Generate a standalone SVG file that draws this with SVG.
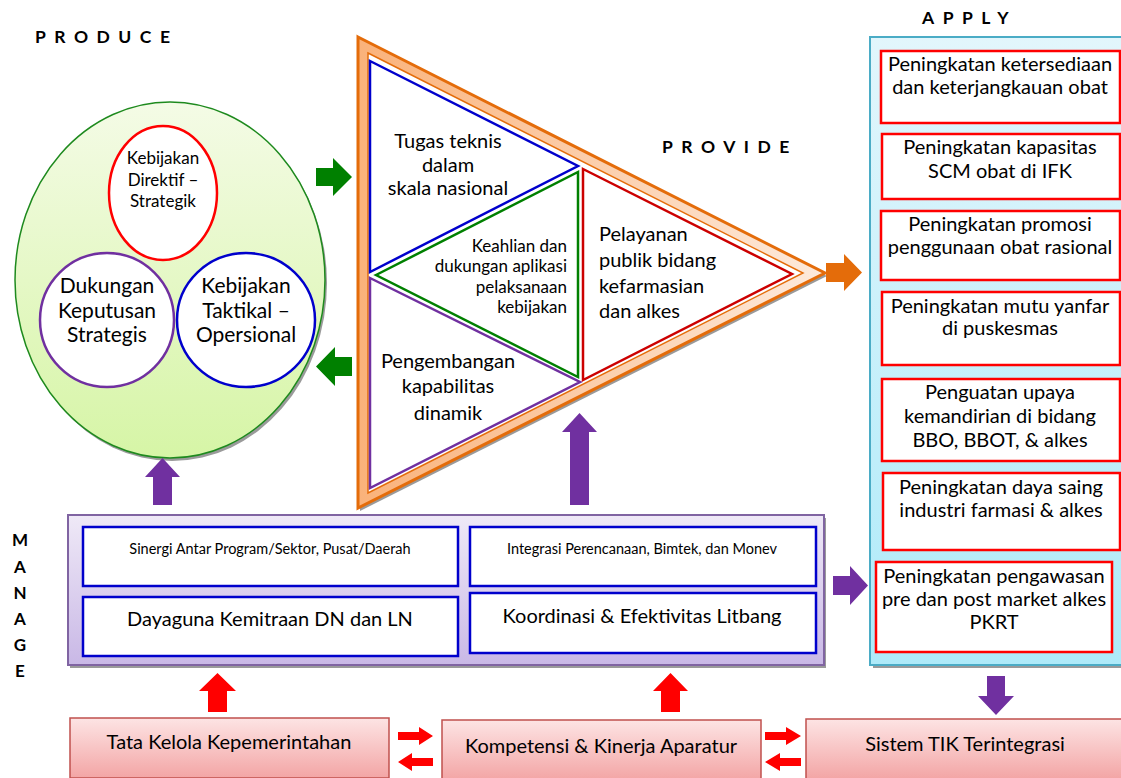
<svg xmlns="http://www.w3.org/2000/svg" width="1121" height="778" viewBox="0 0 1121 778">
<defs>
<linearGradient id="gGreen" x1="0" y1="0" x2="0" y2="1"><stop offset="0" stop-color="#f4fbe6"/><stop offset="1" stop-color="#d6f5a6"/></linearGradient>
<linearGradient id="gOrange" x1="0" y1="0" x2="1" y2="0"><stop offset="0" stop-color="#fab27a"/><stop offset="1" stop-color="#fdeadc"/></linearGradient>
<linearGradient id="gBlue" x1="0" y1="0" x2="0" y2="1"><stop offset="0" stop-color="#e2f6fc"/><stop offset="1" stop-color="#aeeaf9"/></linearGradient>
<linearGradient id="gPurple" x1="0" y1="0" x2="0" y2="1"><stop offset="0" stop-color="#efe9f7"/><stop offset="1" stop-color="#c9b8e6"/></linearGradient>
<linearGradient id="gPink" x1="0" y1="0" x2="0" y2="1"><stop offset="0" stop-color="#fde4e4"/><stop offset="1" stop-color="#f3a5a5"/></linearGradient>
</defs>
<style>
text{font-family:Lato,"Open Sans","Noto Sans",sans-serif;fill:#000}
.t20{font-size:20px;text-anchor:middle}
.t21{font-size:21px;text-anchor:middle}
.t17{font-size:17px;text-anchor:middle}
.k{font-size:17px;text-anchor:end}
.lbl{font-size:17.5px;font-weight:bold;letter-spacing:8.5px}
.mg{font-size:17px;font-weight:bold;text-anchor:middle}
.rb{fill:#fff;stroke:#ff0000;stroke-width:2.5}
.bb{fill:#fff;stroke:#0000cc;stroke-width:2.5}
.pk{fill:url(#gPink);stroke:#c0504d;stroke-width:1.5}
.sh{fill:#9a9a9a}
</style>
<!-- labels -->
<text class="lbl" x="35" y="43">PRODUCE</text>
<text class="lbl" x="662" y="153">PROVIDE</text>
<text class="lbl" x="922" y="24">APPLY</text>
<g id="manage-label">
<text class="mg" x="20" y="546">M</text>
<text class="mg" x="20" y="573">A</text>
<text class="mg" x="20" y="599">N</text>
<text class="mg" x="20" y="625">A</text>
<text class="mg" x="20" y="651">G</text>
<text class="mg" x="20" y="677">E</text>
</g>
<!-- PRODUCE -->
<g id="produce">
<ellipse cx="172" cy="283" rx="155" ry="178" class="sh"/>
<ellipse cx="170" cy="280" rx="155" ry="178" fill="url(#gGreen)" stroke="#1e8a1e" stroke-width="1.5"/>
</g>
<g id="node-direktif">
<ellipse cx="163" cy="193" rx="54" ry="67" fill="#fff" stroke="#ff0000" stroke-width="2.5"/>
<text class="t17" x="163" y="164">Kebijakan</text>
<text class="t17" x="163" y="186">Direktif –</text>
<text class="t17" x="163" y="207">Strategik</text>
</g>
<g id="node-dukungan">
<circle cx="107" cy="320" r="67" fill="#fff" stroke="#7030a0" stroke-width="2.5"/>
<text class="t21" x="107" y="293">Dukungan</text>
<text class="t21" x="107" y="318">Keputusan</text>
<text class="t21" x="107" y="342">Strategis</text>
</g>
<g id="node-taktikal">
<ellipse cx="246" cy="320" rx="69" ry="67" fill="#fff" stroke="#0000cc" stroke-width="2.5"/>
<text class="t21" x="246" y="293">Kebijakan</text>
<text class="t21" x="246" y="318">Taktikal –</text>
<text class="t21" x="246" y="342">Opersional</text>
</g>
<!-- PROVIDE triangle -->
<g id="provide">
<polygon points="360,40 827,276 360,511" class="sh"/>
<polygon points="358,37 825,273 358,508" fill="url(#gOrange)" stroke="#e46c0a" stroke-width="3"/>
<polygon points="368,53 803,273 368,493" fill="#fff" stroke="#e46c0a" stroke-width="1.5"/>
</g>
<g id="node-tugas">
<polygon points="370,61 578,166 370,272" fill="none" stroke="#0000cc" stroke-width="2.5"/>
<text class="t20" x="448" y="148">Tugas teknis</text>
<text class="t20" x="448" y="172">dalam</text>
<text class="t20" x="448" y="195">skala nasional</text>
</g>
<g id="node-keahlian">
<polygon points="376,275 578,172 578,377" fill="none" stroke="#008000" stroke-width="2.5"/>
<text class="k" x="567" y="252">Keahlian dan</text>
<text class="k" x="567" y="272">dukungan aplikasi</text>
<text class="k" x="567" y="293">pelaksanaan</text>
<text class="k" x="567" y="313">kebijakan</text>
</g>
<g id="node-pengembangan">
<polygon points="370,278 580,382 370,488" fill="none" stroke="#7030a0" stroke-width="2.5"/>
<text class="t20" x="448" y="368">Pengembangan</text>
<text class="t20" x="448" y="393">kapabilitas</text>
<text class="t20" x="448" y="420">dinamik</text>
</g>
<g id="node-pelayanan">
<polygon points="583,169 792,274 583,380" fill="none" stroke="#cc0000" stroke-width="2.5"/>
<text x="599" y="241" style="font-size:20px">Pelayanan</text>
<text x="599" y="267" style="font-size:20px">publik bidang</text>
<text x="599" y="293" style="font-size:20px">kefarmasian</text>
<text x="599" y="318" style="font-size:20px">dan alkes</text>
</g>
<!-- APPLY panel -->
<g id="apply">
<rect x="873" y="40" width="260" height="628" class="sh"/>
<rect x="870" y="37" width="260" height="628" fill="url(#gBlue)" stroke="#4bacc6" stroke-width="2"/>
</g>
<g id="apply-1"><rect x="881" y="51" width="239" height="72" class="rb"/>
<text class="t20" x="1000" y="71">Peningkatan ketersediaan</text><text class="t20" x="1000" y="94">dan keterjangkauan obat</text></g>
<g id="apply-2"><rect x="882" y="134" width="238" height="65" class="rb"/>
<text class="t20" x="1000" y="154">Peningkatan kapasitas</text><text class="t20" x="1000" y="178">SCM obat di IFK</text></g>
<g id="apply-3"><rect x="881" y="211" width="239" height="69" class="rb"/>
<text class="t20" x="1000" y="231">Peningkatan promosi</text><text class="t20" x="1000" y="254">penggunaan obat rasional</text></g>
<g id="apply-4"><rect x="882" y="292" width="238" height="73" class="rb"/>
<text class="t20" x="1000" y="313">Peningkatan mutu yanfar</text><text class="t20" x="1000" y="335">di puskesmas</text></g>
<g id="apply-5"><rect x="882" y="379" width="238" height="82" class="rb"/>
<text class="t20" x="1000" y="399">Penguatan upaya</text><text class="t20" x="1000" y="423">kemandirian di bidang</text><text class="t20" x="1000" y="447">BBO, BBOT, &amp; alkes</text></g>
<g id="apply-6"><rect x="883" y="473" width="237" height="77" class="rb"/>
<text class="t20" x="1001" y="494">Peningkatan daya saing</text><text class="t20" x="1001" y="517">industri farmasi &amp; alkes</text></g>
<g id="apply-7"><rect x="876" y="562" width="236" height="90" class="rb"/>
<text class="t20" x="994" y="583">Peningkatan pengawasan</text><text class="t20" x="994" y="606">pre dan post market alkes</text><text class="t20" x="994" y="629">PKRT</text></g>
<!-- MANAGE panel -->
<g id="manage">
<rect x="70" y="518" width="756" height="150" class="sh"/>
<rect x="68" y="515" width="756" height="150" fill="url(#gPurple)" stroke="#8064a2" stroke-width="2"/>
</g>
<g id="manage-sinergi"><rect x="83" y="527" width="375" height="59" class="bb"/>
<text x="270" y="554" text-anchor="middle" style="font-size:14.5px">Sinergi Antar Program/Sektor, Pusat/Daerah</text></g>
<g id="manage-integrasi"><rect x="470" y="527" width="346" height="59" class="bb"/>
<text x="642" y="554" text-anchor="middle" style="font-size:14.5px">Integrasi Perencanaan, Bimtek, dan Monev</text></g>
<g id="manage-dayaguna"><rect x="83" y="597" width="375" height="59" class="bb"/>
<text class="t20" x="270" y="626">Dayaguna Kemitraan DN dan LN</text></g>
<g id="manage-koordinasi"><rect x="470" y="593" width="346" height="60" class="bb"/>
<text class="t20" x="642" y="623">Koordinasi &amp; Efektivitas Litbang</text></g>
<!-- bottom boxes -->
<g id="tata"><rect x="70" y="718" width="319" height="60" class="pk"/>
<text class="t20" x="229" y="749">Tata Kelola Kepemerintahan</text></g>
<g id="kompetensi"><rect x="442" y="720" width="319" height="60" class="pk"/>
<text class="t20" x="601" y="753">Kompetensi &amp; Kinerja Aparatur</text></g>
<g id="sistem"><rect x="806" y="719" width="330" height="60" class="pk"/>
<text class="t20" x="965" y="751">Sistem TIK Terintegrasi</text></g>
<!-- connectors -->
<g id="connectors">
<path d="M316,168 H333 V158 L352,177 L333,196 V186 H316 Z" fill="#008000"/>
<path d="M352,357 H335 V347 L316,366.5 L335,386 V376 H352 Z" fill="#008000"/>
<path d="M826,263 H844 V254 L862,272.5 L844,291 V282 H826 Z" fill="#e46c0a"/>
<path d="M153,505 V477 H145 L162.5,458 L180,477 H172 V505 Z" fill="#7030a0"/>
<path d="M570,505 V432 H562 L579.5,413 L597,432 H589 V505 Z" fill="#7030a0"/>
<path d="M833,576 H850 V566 L868,585.5 L850,605 V595 H833 Z" fill="#7030a0"/>
<path d="M987,676 H1005 V696 H1014 L996,715 L978,696 H987 Z" fill="#7030a0"/>
<path d="M208,712 V691 H199 L217.5,673 L236,691 H227 V712 Z" fill="#ff0000"/>
<path d="M661,712 V691 H653 L670.5,673 L688,691 H680 V712 Z" fill="#ff0000"/>
<path d="M398,732 H419 V727 L433,736 L419,745 V740 H398 Z" fill="#ff0000"/>
<path d="M433,758 H412 V753 L398,762 L412,771 V766 H433 Z" fill="#ff0000"/>
<path d="M765,732 H786 V727 L801,736 L786,745 V740 H765 Z" fill="#ff0000"/>
<path d="M801,758 H780 V753 L765,762 L780,771 V766 H801 Z" fill="#ff0000"/>
</g>
</svg>
